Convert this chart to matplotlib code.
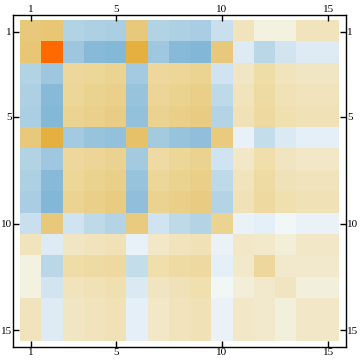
import numpy as np
import matplotlib
matplotlib.use("Agg")
import matplotlib.pyplot as plt
from matplotlib.colors import LinearSegmentedColormap, Normalize

# Matrix values (symmetric 15x15)
row01 = [0.40, 0.43, -0.40, -0.44, -0.47, 0.40, -0.40, -0.44, -0.48, -0.25, 0.14, 0.02, 0.02, 0.14, 0.14]
row02 = [0.43, 1.00, -0.57, -0.77, -0.80, 0.60, -0.56, -0.77, -0.81, 0.41, -0.12, -0.35, -0.18, -0.12, -0.12]
row03 = [-0.40, -0.57, 0.25, 0.27, 0.29, -0.53, 0.25, 0.27, 0.29, -0.20, 0.11, 0.21, 0.14, 0.11, 0.11]
row04 = [-0.44, -0.77, 0.27, 0.31, 0.33, -0.62, 0.28, 0.31, 0.34, -0.32, 0.14, 0.22, 0.16, 0.14, 0.14]
row05 = [-0.47, -0.80, 0.29, 0.33, 0.36, -0.66, 0.30, 0.34, 0.37, -0.39, 0.16, 0.24, 0.18, 0.16, 0.16]
row06 = [0.40, 0.60, -0.53, -0.62, -0.66, 0.48, -0.52, -0.62, -0.68, 0.38, -0.07, -0.28, -0.14, -0.08, -0.08]
row07 = [-0.40, -0.56, 0.25, 0.28, 0.30, -0.52, 0.23, 0.27, 0.30, -0.20, 0.10, 0.20, 0.12, 0.10, 0.10]
row08 = [-0.44, -0.77, 0.27, 0.31, 0.34, -0.62, 0.27, 0.31, 0.34, -0.32, 0.14, 0.22, 0.15, 0.14, 0.14]
row09 = [-0.48, -0.81, 0.29, 0.34, 0.37, -0.68, 0.30, 0.34, 0.37, -0.39, 0.16, 0.24, 0.18, 0.16, 0.16]
row10 = [-0.25, 0.41, -0.20, -0.32, -0.39, 0.38, -0.20, -0.32, -0.39, 0.29, -0.05, -0.08, -0.02, -0.05, -0.05]
row11 = [0.14, -0.12, 0.11, 0.14, 0.16, -0.07, 0.10, 0.14, 0.16, -0.05, 0.10, 0.09, 0.04, 0.10, 0.10]
row12 = [0.02, -0.35, 0.21, 0.22, 0.24, -0.28, 0.20, 0.22, 0.24, -0.08, 0.09, 0.25, 0.08, 0.08, 0.08]
row13 = [0.02, -0.18, 0.14, 0.16, 0.18, -0.14, 0.12, 0.15, 0.18, -0.02, 0.04, 0.08, 0.12, 0.035, 0.035]
row14 = [0.14, -0.12, 0.11, 0.14, 0.16, -0.08, 0.10, 0.14, 0.16, -0.05, 0.10, 0.08, 0.035, 0.10, 0.10]
row15 = [0.14, -0.12, 0.11, 0.14, 0.16, -0.08, 0.10, 0.14, 0.16, -0.05, 0.10, 0.08, 0.035, 0.10, 0.10]

tick_positions = [1, 5, 10, 15]
tick_labels = ["1", "5", "10", "15"]

matrix = np.array([row01, row02, row03, row04, row05, row06, row07, row08,
                   row09, row10, row11, row12, row13, row14, row15])

anchors = [
    (-1.00, "#6AA6CF"),
    (-0.82, "#82B7D7"),
    (-0.60, "#9BC5DE"),
    (-0.40, "#B3D4E5"),
    (-0.20, "#D0E3F0"),
    (-0.05, "#EBF3F9"),
    (0.00, "#F5F8F6"),
    (0.02, "#F3F1DF"),
    (0.10, "#F2E8C8"),
    (0.20, "#F0DEAB"),
    (0.30, "#EBD391"),
    (0.40, "#E9CA7D"),
    (0.48, "#E8C26A"),
    (0.60, "#E6B040"),
    (1.00, "#FF6A00"),
]
cmap = LinearSegmentedColormap.from_list(
    "mma", [((v + 1) / 2, c) for v, c in anchors])

fig = plt.figure(figsize=(3.6, 3.63), dpi=100)
ax = fig.add_axes([13 / 360, 16 / 363, 333 / 360, 332 / 363])

n = matrix.shape[0]
ax.imshow(matrix, cmap=cmap, norm=Normalize(-1, 1),
          extent=(0.5, n + 0.5, n + 0.5, 0.5), interpolation="nearest",
          aspect="auto")
ax.set_xlim(0.17, 15.83)
ax.set_ylim(15.78, 0.22)

for s in ax.spines.values():
    s.set_linewidth(1.0)
    s.set_color("black")

ax.set_xticks(tick_positions)
ax.set_xticklabels(tick_labels)
ax.set_yticks(tick_positions)
ax.set_yticklabels(tick_labels)
ax.tick_params(axis="both", which="both", direction="in", length=4, width=1,
               top=True, bottom=True, left=True, right=True,
               labeltop=True, labelbottom=True, labelleft=True, labelright=True,
               pad=1, labelsize=8, colors="black")
for lab in ax.get_xticklabels() + ax.get_yticklabels():
    lab.set_family("Liberation Serif")

fig.savefig("out.png", dpi=100)
